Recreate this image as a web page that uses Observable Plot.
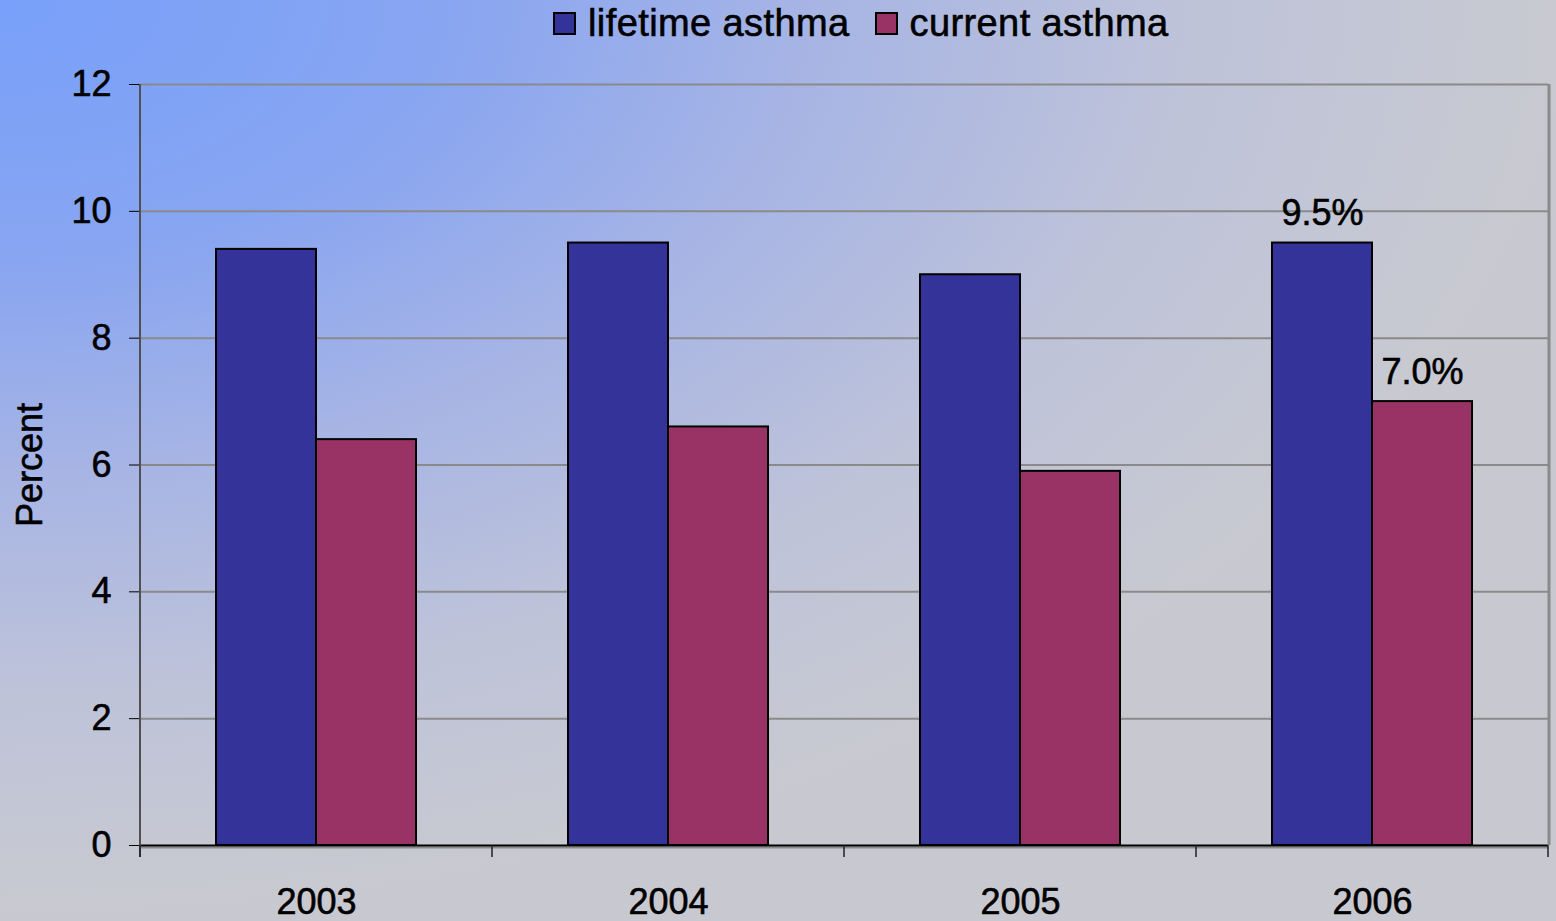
<!DOCTYPE html>
<html>
<head>
<meta charset="utf-8">
<script src="https://cdn.jsdelivr.net/npm/d3@7"></script>
<script src="https://cdn.jsdelivr.net/npm/@observablehq/plot@0.6"></script>
<style>
  html, body { margin: 0; padding: 0; }
  body {
    width: 1556px; height: 921px; overflow: hidden;
    font-family: "Liberation Sans", Arial, sans-serif;
    background: radial-gradient(ellipse 1650px 960px at 0 0, #78a0fa 0%, #88a5f1 27%, #a8b5e4 50%, #bec3d9 72%, #c8c9d0 95%);
  }
  #legend { height: 46px; display: flex; align-items: center; padding-left: 553px; }
  #legend .lg-swatches { font-family: "Liberation Sans", Arial, sans-serif; font-size: 38px; color: #000; margin: 0; min-height: 0; letter-spacing: 0.4px; -webkit-text-stroke: 0.6px #000; }
  #legend .lg-swatch { margin-right: 25px !important; }
  #legend .lg-swatch svg { margin-right: 12px !important; outline: 2px solid #000; outline-offset: -2px; }
  #chart svg { background: transparent !important; display: block; }
  #chart svg text { stroke: #000; stroke-width: 0.6px; }
</style>
</head>
<body>
<div id="legend"></div>
<div id="chart"></div>
<script>
const years = ["2003", "2004", "2005", "2006"];
const seriesNames = ["lifetime asthma", "current asthma"];
const lifetime = [9.4, 9.5, 9.0, 9.5];
const current = [6.4, 6.6, 5.9, 7.0];
const seriesColors = ["#333399", "#993366"];
const yTicks = [0, 2, 4, 6, 8, 10, 12];
const labeledYears = ["2006"];

const data = years.flatMap((yr, i) => [
  {year: yr, series: seriesNames[0], value: lifetime[i]},
  {year: yr, series: seriesNames[1], value: current[i]}
]);
const labelData = data.filter(d => labeledYears.includes(d.year));

document.getElementById("legend").append(
  Plot.legend({
    color: {domain: seriesNames, range: seriesColors},
    className: "lg",
    swatchSize: 23
  })
);

const plot = Plot.plot({
  width: 1556,
  height: 875,
  marginLeft: 138,
  marginRight: 7,
  marginTop: 38,
  marginBottom: 76,
  style: {fontFamily: "Liberation Sans, Arial, sans-serif", fontSize: "36px", color: "#000", background: "transparent", overflow: "visible"},
  fx: {domain: years, padding: 0, label: null, tickSize: 0, tickPadding: 43, axis: "bottom"},
  x: {domain: seriesNames, paddingInner: 0, paddingOuter: 0.75, axis: null},
  y: {domain: [0, 12], ticks: yTicks, tickSize: 11, tickPadding: 18, label: "Percent", labelAnchor: "center", labelOffset: 124, labelArrow: "none"},
  color: {domain: seriesNames, range: seriesColors},
  marks: [
    Plot.ruleY(yTicks.filter(v => v > 0), {stroke: "#8a8a8a", strokeWidth: 2}),
    Plot.ruleY([0], {stroke: "#8a8a8a", strokeWidth: 2, dy: 2}),
    Plot.barY(data, {fx: "year", x: "series", y: "value", fill: "series", stroke: "#000", strokeWidth: 2}),
    Plot.text(labelData, {fx: "year", x: "series", y: "value", text: d => d.value.toFixed(1) + "%", lineAnchor: "bottom", dy: -18, fontSize: 36, fill: "#000"}),
    Plot.ruleY([0], {stroke: "#000", strokeWidth: 2})
  ]
});
document.getElementById("chart").append(plot);

// frame edges and category boundary ticks, positioned through Plot's own scales
const fx = plot.scale("fx");
const ys = plot.scale("y");
const y0 = ys.apply(0), yTop = ys.apply(12);
const edges = years.map(d => fx.apply(d)).concat([fx.apply(years[years.length - 1]) + fx.bandwidth]);
const g = d3.select(plot).append("g");
// right border
g.append("line").attr("x1", edges[edges.length - 1] + 1).attr("x2", edges[edges.length - 1] + 1)
  .attr("y1", yTop).attr("y2", y0).attr("stroke", "#8a8a8a").attr("stroke-width", 3);
// left axis line
g.append("line").attr("x1", edges[0]).attr("x2", edges[0])
  .attr("y1", yTop).attr("y2", y0 + 12).attr("stroke", "#505050").attr("stroke-width", 2);
// boundary ticks
g.selectAll("line.bt").data(edges).join("line").attr("class", "bt")
  .attr("x1", d => d).attr("x2", d => d).attr("y1", y0).attr("y2", y0 + 12)
  .attr("stroke", "#202020").attr("stroke-width", 1.5);
</script>
</body>
</html>
